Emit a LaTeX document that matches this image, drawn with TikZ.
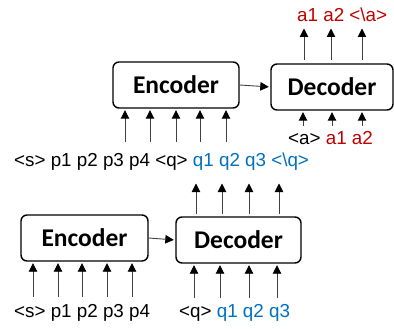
\documentclass[tikz,border=0pt]{standalone}
\usepackage{fontspec}
\setmainfont{Liberation Sans}
\newfontfamily\boxfont{Carlito}
\usetikzlibrary{arrows.meta}
\definecolor{ared}{RGB}{192,0,0}
\definecolor{qblue}{RGB}{0,112,192}
\begin{document}
\begin{tikzpicture}[x=1pt,y=-1pt,
	box/.style={draw,line width=1.4pt,rounded corners=6pt,minimum height=46pt,font=\boxfont\bfseries\fontsize{25.5}{25.5}\selectfont},
	word/.style={anchor=west,inner sep=0pt,font=\fontsize{18.8}{18.8}\selectfont},
	up/.style={draw=black!75,line width=0.9pt,-{Triangle[length=8.5pt,width=8.5pt,color=black]},shorten >=1.5pt}]
	\useasboundingbox (0,0) rectangle (394,329);

	%boxes
	\node[box,minimum width=126pt] (enc1) at (176,85) 	{Encoder};
	\node[box,minimum width=122pt] (dec1) at (332,87) 	{Decoder};
	\node[box,minimum width=127pt] (enc2) at (84.5,238) 	{Encoder};
	\node[box,minimum width=125pt] (dec2) at (238.5,240) 	{Decoder};

	%labels
	\node[word] (src1) at (14,162) 	{<s> p1 p2 p3 p4 <q> \textcolor{qblue}{q1 q2 q3 <\textbackslash q>}};
	\node[word] (ans1) at (297,15) 	{\textcolor{ared}{a1 a2 <\textbackslash a>}};
	\node[word] (ain1) at (288,138) 	{<a> \textcolor{ared}{a1 a2}};
	\node[word] (src2) at (14,313) 	{<s> p1 p2 p3 p4};
	\node[word] (qin2) at (179,313) 	{<q> \textcolor{qblue}{q1 q2 q3}};

	%encoder to decoder
	\draw[up] (enc1.east) -- (dec1.west);
	\draw[up] (enc2.east) -- (dec2.west);

	%arrows in and out
	\foreach \x in {125,150,176,200,226}
		\draw[up] (\x,142) -- (\x,142 |- enc1.south);
	\foreach \x in {304,331,362}
		\draw[up] (\x,60) -- (\x,27);
	\foreach \x in {303,332,362}
		\draw[up] (\x,126) -- (\x,126 |- dec1.south);
	\foreach \x in {33,58,82,107,132}
		\draw[up] (\x,297) -- (\x,297 |- enc2.south);
	\foreach \x in {196,222,249,279}
		\draw[up] (\x,214) -- (\x,182);
	\foreach \x in {194,220,249,277}
		\draw[up] (\x,298) -- (\x,298 |- dec2.south);
\end{tikzpicture}
\end{document}
